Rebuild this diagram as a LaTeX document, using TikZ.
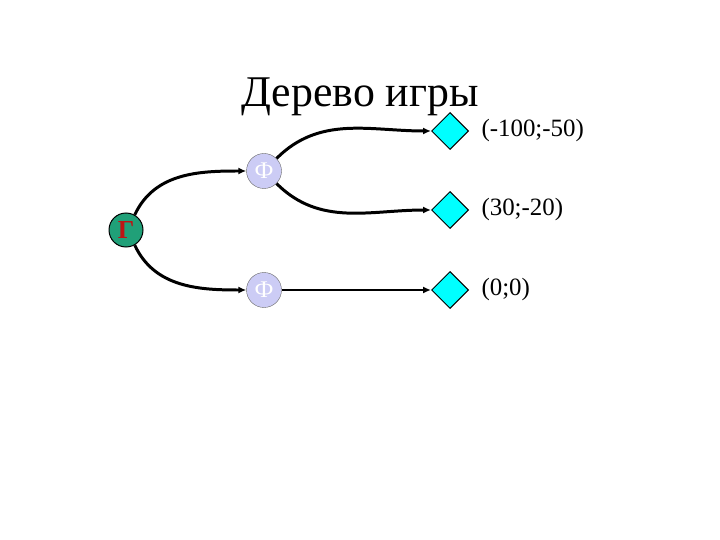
\documentclass[tikz,border=0pt]{standalone}
\usepackage{fontspec}
\setmainfont{Liberation Serif}
\usetikzlibrary{shapes.geometric,arrows.meta}
\definecolor{gfill}{RGB}{32,160,120}
\definecolor{ffill}{RGB}{204,204,245}
\definecolor{gtext}{RGB}{190,20,20}
\definecolor{dfill}{RGB}{0,255,255}
\begin{document}
\begin{tikzpicture}[x=1bp,y=-1bp,
  edge/.style={line width=3pt,-{Latex[length=8pt,width=7pt]}},
  gnode/.style={circle,draw=black,line width=1pt,fill=gfill,minimum size=34bp,inner sep=0pt,font=\bfseries\fontsize{26}{26}\selectfont,text=gtext},
  fnode/.style={circle,draw=black!60,fill=ffill,minimum size=35bp,inner sep=0pt,font=\fontsize{24}{24}\selectfont,text=white},
  leaf/.style={diamond,draw=black,line width=1pt,fill=dfill,minimum size=37bp,inner sep=0pt},
  lab/.style={anchor=west,font=\fontsize{25}{25}\selectfont}]
\useasboundingbox (0,0) rectangle (720,540);
\node (title) at (360,97) {\fontsize{44}{44}\selectfont Дерево игры};
\node[gnode] (g) at (126,230) {Г};
\node[fnode] (f1) at (264,171) {Ф};
\node[fnode] (f2) at (264,290) {Ф};
\node[leaf] (d1) at (450,131) {};
\node[leaf] (d2) at (450,210) {};
\node[leaf] (d3) at (450,290) {};
\node[lab] (l1) at (478,131) {(-100;-50)};
\node[lab] (l2) at (478,210) {(30;-20)};
\node[lab] (l3) at (478,290) {(0;0)};
\draw[edge] (g.60) to[out=65,in=180] (f1.west);
\draw[edge] (g.-60) to[out=-65,in=180] (f2.west);
\draw[edge] (f1.45) to[out=45,in=180] (d1.west);
\draw[edge] (f1.-45) to[out=-45,in=180] (d2.west);
\draw[edge] (f2.east) to[out=0,in=180] (d3.west);
\end{tikzpicture}
\end{document}
